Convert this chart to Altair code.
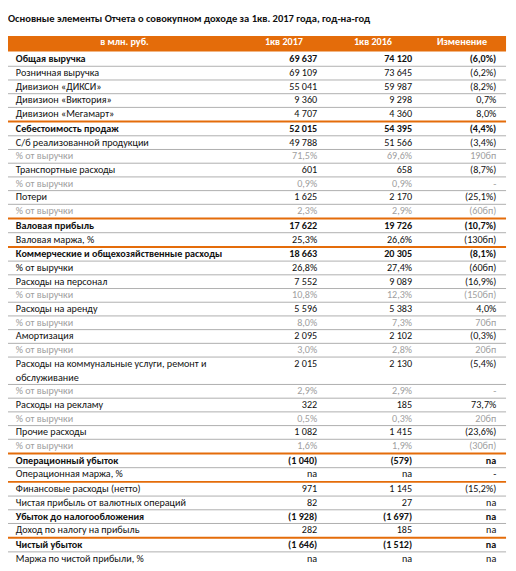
import altair as alt
import pandas as pd

# ---------------- data ----------------
title = "Основные элементы Отчета о совокупном доходе за 1кв. 2017 года, год-на-год"
headers = ["в млн. руб.", "1кв 2017", "1кв 2016", "Изменение"]

labels = [
    "Общая выручка", "Розничная выручка", "Дивизион «ДИКСИ»", "Дивизион «Виктория»",
    "Дивизион «Мегамарт»", "Себестоимость продаж", "С/б реализованной продукции",
    "% от выручки", "Транспортные расходы", "% от выручки", "Потери", "% от выручки",
    "Валовая прибыль", "Валовая маржа, %", "Коммерческие и общехозяйственные расходы",
    "% от выручки", "Расходы на персонал", "% от выручки", "Расходы на аренду",
    "% от выручки", "Амортизация", "% от выручки",
    "Расходы на коммунальные услуги, ремонт и\nобслуживание",
    "% от выручки", "Расходы на рекламу", "% от выручки", "Прочие расходы",
    "% от выручки", "Операционный убыток", "Операционная маржа, %",
    "Финансовые расходы (нетто)", "Чистая прибыль от валютных операций",
    "Убыток до налогообложения", "Доход по налогу на прибыль", "Чистый убыток",
    "Маржа по чистой прибыли, %",
]
q1_2017 = [
    "69 637", "69 109", "55 041", "9 360", "4 707", "52 015", "49 788", "71,5%",
    "601", "0,9%", "1 625", "2,3%", "17 622", "25,3%", "18 663", "26,8%", "7 552",
    "10,8%", "5 596", "8,0%", "2 095", "3,0%", "2 015", "2,9%", "322", "0,5%",
    "1 082", "1,6%", "(1 040)", "na", "971", "82", "(1 928)", "282", "(1 646)", "na",
]
q1_2016 = [
    "74 120", "73 645", "59 987", "9 298", "4 360", "54 395", "51 566", "69,6%",
    "658", "0,9%", "2 170", "2,9%", "19 726", "26,6%", "20 305", "27,4%", "9 089",
    "12,3%", "5 383", "7,3%", "2 102", "2,8%", "2 130", "2,9%", "185", "0,3%",
    "1 415", "1,9%", "(579)", "na", "1 145", "27", "(1 697)", "185", "(1 512)", "na",
]
change = [
    "(6,0%)", "(6,2%)", "(8,2%)", "0,7%", "8,0%", "(4,4%)", "(3,4%)", "190бп",
    "(8,7%)", "-", "(25,1%)", "(60бп)", "(10,7%)", "(130бп)", "(8,1%)", "(60бп)",
    "(16,9%)", "(150бп)", "4,0%", "70бп", "(0,3%)", "20бп", "(5,4%)", "-", "73,7%",
    "20бп", "(23,6%)", "(30бп)", "na", "-", "(15,2%)", "na", "na", "na", "na", "na",
]
# b = bold, n = normal, g = grey
row_style = [
    "b", "n", "n", "n", "n", "b", "n", "g", "n", "g", "n", "g", "b", "n", "b", "n",
    "n", "g", "n", "g", "n", "g", "n", "g", "n", "g", "n", "g", "b", "n", "n", "n",
    "b", "n", "b", "n",
]
# rows after which an orange section rule is drawn
orange_after = {4, 11, 13, 27, 29, 33}

# ---------------- layout (computed) ----------------
ORANGE = "#E46C0A"
BLACK = "#111111"
GREY = "#a0a0a0"
FONT = "Carlito"
FS = 10.3
PITCH = 14.0
X_LABEL, X_C1, X_C2, X_C3 = 12, 320, 417, 503
X_LEFT, X_RIGHT = 4, 513

label_rows, value_rows, sep_rows = [], [], []
y = 51.0
for i, lab in enumerate(labels):
    lines = lab.split("\n")
    color = GREY if row_style[i] == "g" else BLACK
    weight = "bold" if row_style[i] == "b" else "normal"
    for k, ln in enumerate(lines):
        label_rows.append({"x": X_LABEL, "y": y + k * PITCH, "t": ln, "c": color, "w": weight})
    for xx, v in ((X_C1, q1_2017[i]), (X_C2, q1_2016[i]), (X_C3, change[i])):
        value_rows.append({"x": xx, "y": y, "t": v, "c": color, "w": weight})
    last_line_y = y + (len(lines) - 1) * PITCH
    y += PITCH * len(lines)
    if i in orange_after:
        y += 1.0
    if i < len(labels) - 1:
        sep_rows.append({"x": X_LEFT, "x2": X_RIGHT, "y": (last_line_y + y) / 2,
                         "k": "o" if i in orange_after else "g"})

labels_df = pd.DataFrame(label_rows)
values_df = pd.DataFrame(value_rows)
seps_df = pd.DataFrame(sep_rows)
header_df = pd.DataFrame({"t": headers, "x": [123, 286, 377, 468], "y": [33] * 4})
band_df = pd.DataFrame({"x": [X_LEFT], "x2": [X_RIGHT], "y": [27], "y2": [43]})
title_df = pd.DataFrame({"t": [title], "x": [4], "y": [10]})

xs = alt.Scale(domain=[4, 515])
ys = alt.Scale(domain=[3, 569], reverse=True)
X = lambda f="x": alt.X(f"{f}:Q", scale=xs, axis=None)
Y = lambda f="y": alt.Y(f"{f}:Q", scale=ys, axis=None)

band = alt.Chart(band_df).mark_rect(color=ORANGE).encode(
    x=X(), x2="x2:Q", y=Y(), y2="y2:Q")

ttl = alt.Chart(title_df).mark_text(
    align="left", baseline="middle", font=FONT, fontSize=10.7, fontWeight="bold", color=BLACK
).encode(x=X(), y=Y(), text="t:N")

hdr = alt.Chart(header_df).mark_text(
    align="center", baseline="middle", font=FONT, fontSize=FS, fontWeight="bold", color="white"
).encode(x=X(), y=Y(), text="t:N")

def txt(df, align, weight):
    return alt.Chart(df[df["w"] == weight]).mark_text(
        align=align, baseline="middle", font=FONT, fontSize=FS,
        fontWeight=weight
    ).encode(x=X(), y=Y(), text="t:N", color=alt.Color("c:N", scale=None))

grey_rules = alt.Chart(seps_df[seps_df["k"] == "g"]).mark_rule(
    color="#9a9a9a", strokeWidth=0.8).encode(x=X(), x2="x2:Q", y=Y())
orange_rules = alt.Chart(seps_df[seps_df["k"] == "o"]).mark_rule(
    color=ORANGE, strokeWidth=2).encode(x=X(), x2="x2:Q", y=Y())

chart = alt.layer(
    band, grey_rules, orange_rules, ttl, hdr,
    txt(labels_df, "left", "normal"), txt(labels_df, "left", "bold"),
    txt(values_df, "right", "normal"), txt(values_df, "right", "bold"),
).properties(
    width=508, height=563, padding=0, autosize="none"
).configure_view(stroke=None)

chart.save("out.html", embed_options={"renderer": "svg", "actions": False})
